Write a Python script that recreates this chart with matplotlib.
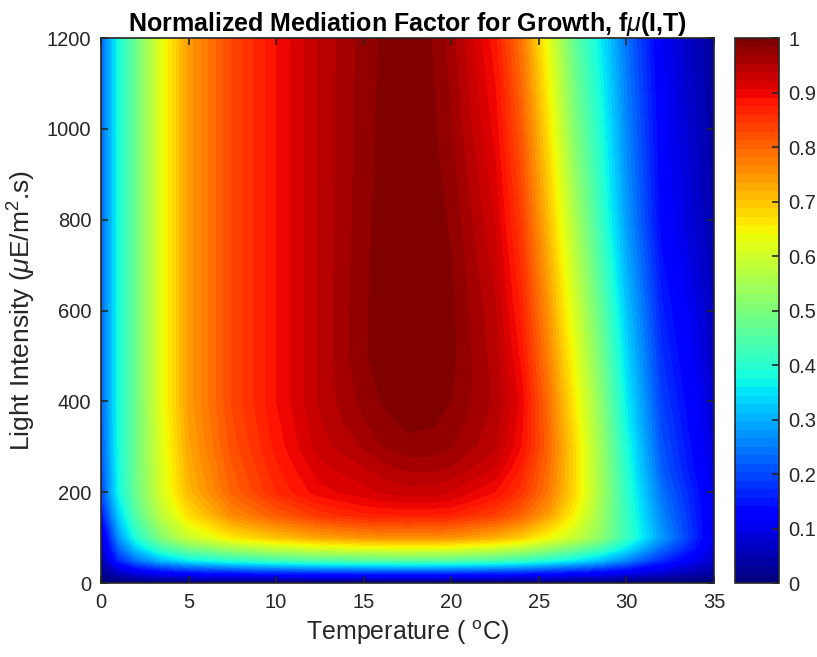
import numpy as np
import matplotlib
matplotlib.use('Agg')
import matplotlib.pyplot as plt

plt.rcParams['font.family'] = ['Liberation Sans', 'DejaVu Sans']
plt.rcParams['mathtext.fontset'] = 'custom'
plt.rcParams['mathtext.rm'] = 'Liberation Sans'
plt.rcParams['mathtext.it'] = 'Liberation Sans:italic'

# temperature grid (deg C) and light grid (uE/m2.s) the values were read on
temps = [0, 1, 2, 3.5, 5, 7.5, 10, 12.5, 15, 16, 17.5, 19, 20, 22.5, 24, 25.5, 27, 28.5, 30, 32, 35]
light = [0, 10, 25, 50, 75, 100, 125, 150, 175, 200, 250, 300, 350, 400, 500, 600, 800, 1000, 1200]

# f(I,T), one row per light level
f_I0 = [0.0] * 21
f_I10 = [0.006, 0.025, 0.036, 0.048, 0.055, 0.061, 0.065, 0.068, 0.069, 0.07, 0.07, 0.07, 0.069, 0.067, 0.064, 0.06, 0.055, 0.048, 0.041, 0.03, 0.013]
f_I25 = [0.018, 0.072, 0.104, 0.136, 0.156, 0.174, 0.186, 0.194, 0.198, 0.199, 0.2, 0.199, 0.198, 0.19, 0.182, 0.17, 0.156, 0.138, 0.116, 0.085, 0.04]
f_I50 = [0.041, 0.166, 0.239, 0.313, 0.359, 0.4, 0.428, 0.446, 0.455, 0.457, 0.46, 0.458, 0.455, 0.437, 0.419, 0.391, 0.359, 0.317, 0.26, 0.17, 0.07]
f_I75 = [0.056, 0.223, 0.322, 0.422, 0.484, 0.539, 0.577, 0.601, 0.614, 0.617, 0.62, 0.618, 0.614, 0.589, 0.564, 0.527, 0.484, 0.428, 0.35, 0.23, 0.09]
f_I100 = [0.068, 0.27, 0.39, 0.51, 0.59, 0.66, 0.70, 0.73, 0.75, 0.752, 0.755, 0.753, 0.75, 0.72, 0.69, 0.64, 0.59, 0.52, 0.42, 0.28, 0.10]
f_I125 = [0.1, 0.3, 0.42, 0.545, 0.63, 0.71, 0.755, 0.79, 0.81, 0.814, 0.817, 0.815, 0.81, 0.78, 0.745, 0.69, 0.62, 0.53, 0.42, 0.27, 0.10]
f_I150 = [0.14, 0.33, 0.45, 0.58, 0.67, 0.76, 0.81, 0.85, 0.87, 0.872, 0.875, 0.873, 0.87, 0.84, 0.80, 0.74, 0.65, 0.54, 0.415, 0.26, 0.10]
f_I175 = [0.17, 0.35, 0.465, 0.595, 0.69, 0.78, 0.835, 0.875, 0.895, 0.9, 0.905, 0.903, 0.9, 0.865, 0.825, 0.76, 0.665, 0.545, 0.41, 0.25, 0.10]
f_I200 = [0.19, 0.37, 0.48, 0.61, 0.71, 0.80, 0.86, 0.90, 0.915, 0.923, 0.93, 0.928, 0.92, 0.89, 0.85, 0.78, 0.68, 0.55, 0.405, 0.24, 0.10]
f_I250 = [0.2, 0.375, 0.48, 0.615, 0.72, 0.81, 0.87, 0.915, 0.935, 0.945, 0.955, 0.955, 0.95, 0.92, 0.87, 0.79, 0.68, 0.545, 0.395, 0.22, 0.09]
f_I300 = [0.21, 0.38, 0.48, 0.62, 0.73, 0.82, 0.88, 0.93, 0.955, 0.968, 0.979, 0.978, 0.97, 0.94, 0.89, 0.80, 0.68, 0.54, 0.385, 0.21, 0.085]
f_I350 = [0.215, 0.38, 0.48, 0.625, 0.735, 0.825, 0.885, 0.935, 0.967, 0.978, 0.988, 0.985, 0.978, 0.945, 0.895, 0.795, 0.67, 0.53, 0.37, 0.20, 0.08]
f_I400 = [0.22, 0.38, 0.48, 0.63, 0.74, 0.83, 0.89, 0.94, 0.975, 0.985, 0.993, 0.99, 0.984, 0.95, 0.90, 0.79, 0.66, 0.52, 0.36, 0.19, 0.075]
f_I500 = [0.22, 0.38, 0.48, 0.63, 0.74, 0.83, 0.89, 0.94, 0.982, 0.992, 1.0, 0.996, 0.989, 0.945, 0.885, 0.77, 0.635, 0.495, 0.34, 0.175, 0.065]
f_I600 = [0.22, 0.38, 0.48, 0.63, 0.74, 0.83, 0.89, 0.94, 0.982, 0.991, 1.0, 0.995, 0.988, 0.94, 0.87, 0.75, 0.61, 0.47, 0.32, 0.16, 0.06]
f_I800 = [0.22, 0.38, 0.48, 0.63, 0.74, 0.83, 0.89, 0.94, 0.979, 0.99, 0.999, 0.99, 0.982, 0.92, 0.84, 0.71, 0.56, 0.42, 0.28, 0.13, 0.045]
f_I1000 = [0.22, 0.38, 0.48, 0.63, 0.74, 0.83, 0.89, 0.94, 0.977, 0.988, 0.997, 0.986, 0.97, 0.90, 0.81, 0.67, 0.51, 0.39, 0.26, 0.12, 0.035]
f_I1200 = [0.22, 0.38, 0.48, 0.63, 0.74, 0.83, 0.89, 0.94, 0.975, 0.986, 0.995, 0.983, 0.96, 0.88, 0.78, 0.63, 0.47, 0.36, 0.24, 0.11, 0.03]

cbar_ticks = [0, 0.1, 0.2, 0.3, 0.4, 0.5, 0.6, 0.7, 0.8, 0.9, 1]
cbar_labels = ['0', '0.1', '0.2', '0.3', '0.4', '0.5', '0.6', '0.7', '0.8', '0.9', '1']

field = np.array([f_I0, f_I10, f_I25, f_I50, f_I75, f_I100, f_I125, f_I150, f_I175,
                  f_I200, f_I250, f_I300, f_I350, f_I400, f_I500, f_I600,
                  f_I800, f_I1000, f_I1200])

edge = '#262626'
fig = plt.figure(figsize=(8.17, 6.57), dpi=100)
ax = fig.add_axes([0.1236, 0.1126, 0.7503, 0.8295])
cax = fig.add_axes([0.8996, 0.1126, 0.0539, 0.8295])

cmap = plt.get_cmap('jet', 64)
cs = ax.contourf(temps, light, field, levels=np.linspace(0, 1, 65), cmap=cmap, vmin=0, vmax=1)

ax.set_xlim(0, 35)
ax.set_ylim(0, 1200)
ax.set_xticks([0, 5, 10, 15, 20, 25, 30, 35])
ax.set_yticks([0, 200, 400, 600, 800, 1000, 1200])
ax.tick_params(direction='in', top=True, right=True, length=5, width=1.2,
               labelsize=14.5, color=edge, labelcolor=edge, pad=7)
for s in ax.spines.values():
    s.set_color(edge)
    s.set_linewidth(1.2)

ax.set_xlabel(r'Temperature ( $^{\rm o}$C)', fontsize=18, color=edge, labelpad=5)
ax.set_ylabel(r'Light Intensity ($\mu$E/m$^2$.s)', fontsize=19, color=edge, labelpad=6)
ax.set_title(r'Normalized Mediation Factor for Growth, f$\mu$(I,T)', fontsize=18,
             fontweight='bold', color='black', pad=5)

cb = fig.colorbar(cs, cax=cax, ticks=cbar_ticks)
cb.ax.set_yticklabels(cbar_labels)
cb.ax.tick_params(direction='in', length=5, width=1.2, labelsize=14.5,
                  color=edge, labelcolor=edge, pad=7)
cb.outline.set_edgecolor(edge)
cb.outline.set_linewidth(1.2)

fig.savefig('out.png', dpi=100)
